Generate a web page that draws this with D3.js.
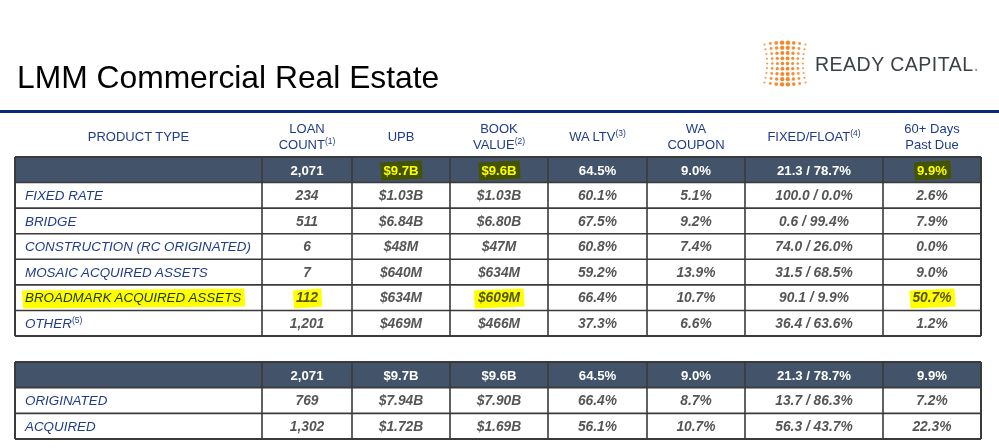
<!DOCTYPE html>
<html><head><meta charset="utf-8">
<script src="https://cdn.jsdelivr.net/npm/d3@7"></script>
<style>
html,body{margin:0;padding:0;background:#fff;}
svg{display:block;font-family:"Liberation Sans",Arial,sans-serif;}
</style></head>
<body>
<svg id="chart" width="999" height="448"></svg>
<script>
// ---- DATA ----
const headers = [["PRODUCT TYPE"],["LOAN","COUNT|(1)"],["UPB"],["BOOK","VALUE|(2)"],["WA LTV|(3)"],["WA","COUPON"],["FIXED/FLOAT|(4)"],["60+ Days","Past Due"]];
const productTypes = ["FIXED RATE","BRIDGE","CONSTRUCTION (RC ORIGINATED)","MOSAIC ACQUIRED ASSETS","BROADMARK ACQUIRED ASSETS","OTHER|(5)"];
const loanCount = ["234","511","6","7","112","1,201"];
const upb = ["$1.03B","$6.84B","$48M","$640M","$634M","$469M"];
const bookValue = ["$1.03B","$6.80B","$47M","$634M","$609M","$466M"];
const waLtv = ["60.1%","67.5%","60.8%","59.2%","66.4%","37.3%"];
const waCoupon = ["5.1%","9.2%","7.4%","13.9%","10.7%","6.6%"];
const fixedFloat = ["100.0 / 0.0%","0.6 / 99.4%","74.0 / 26.0%","31.5 / 68.5%","90.1 / 9.9%","36.4 / 63.6%"];
const pastDue = ["2.6%","7.9%","0.0%","9.0%","50.7%","1.2%"];
const totals = ["2,071","$9.7B","$9.6B","64.5%","9.0%","21.3 / 78.7%","9.9%"];

const sourceTypes = ["ORIGINATED","ACQUIRED"];
const srcLoanCount = ["769","1,302"];
const srcUpb = ["$7.94B","$1.72B"];
const srcBookValue = ["$7.90B","$1.69B"];
const srcWaLtv = ["66.4%","56.1%"];
const srcWaCoupon = ["8.7%","10.7%"];
const srcFixedFloat = ["13.7 / 86.3%","56.3 / 43.7%"];
const srcPastDue = ["7.2%","22.3%"];

// highlighted cells: [table, row, col]  (row 0 = totals row)
const highlights = [[0,0,2],[0,0,3],[0,0,7],[0,5,0],[0,5,1],[0,5,3],[0,5,7]];

// ---- LAYOUT ----
const W = 999, H = 448;
const colEdges = [15, 262, 352, 450, 548, 647, 745, 883, 981];
const svg = d3.select("#chart");
const navy = "#1f3c8c", gray = "#555555", slate = "#435369", lineC = "#3a3a3a";

// title
svg.append("text").attr("x", 17).attr("y", 88).attr("font-size", 31.8).attr("fill", "#000")
  .text("LMM Commercial Real Estate");
// rule
svg.append("rect").attr("x", 0).attr("y", 110).attr("width", W).attr("height", 3).attr("fill", "#0b2a78");

// logo (decorative dot mark)
const logo = svg.append("g");
const nCols = 8, nRows = 9;
for (let r = 0; r < nRows; r++) {
  const t = r / (nRows - 1);
  const pinch = 1 - 0.13 * Math.sin(Math.PI * t);
  for (let c = 0; c < nCols; c++) {
    const u = (c - (nCols - 1) / 2) / ((nCols - 1) / 2);
    const x = 785 + u * 20.5 * pinch;
    const y = 63.5 + (t - 0.5) * 38 * (1 + 0.1 * (1 - u * u));
    const edge = Math.abs(t - 0.5) * 2;
    const rr = 1.1 + 0.8 * (1 - Math.abs(u)) + 0.5 * edge * (1 - Math.abs(u));
    logo.append("circle").attr("cx", x).attr("cy", y).attr("r", rr).attr("fill", "#f5821f")
      .attr("opacity", 0.8 + 0.2 * (1 - Math.abs(u)));
  }
}
const lt = svg.append("text").attr("x", 815).attr("y", 71).attr("font-size", 19.5).attr("fill", "#3b4147").attr("letter-spacing", 0.5);
lt.append("tspan").text("READY CAPITAL");
lt.append("tspan").attr("fill", "#999").text(".");

// header row
const colCenter = i => (colEdges[i] + colEdges[i + 1]) / 2;
headers.forEach((lines, i) => {
  const n = lines.length;
  lines.forEach((ln, j) => {
    const y = n === 1 ? 141 : 133 + j * 16;
    const [main, sup] = ln.split("|");
    const t = svg.append("text").attr("x", colCenter(i)).attr("y", y).attr("text-anchor", "middle")
      .attr("font-size", 13).attr("fill", navy);
    t.append("tspan").text(main);
    if (sup) t.append("tspan").attr("font-size", 8.5).attr("dy", -5).text(sup);
  });
});

function drawTable(top, bottom, labels, cols, tIdx) {
  const nRowsT = labels.length + 1;
  const y = d3.scaleBand().domain(d3.range(nRowsT)).range([top, bottom]);
  const g = svg.append("g");
  const txt = svg.append("g");
  g.append("rect").attr("x", colEdges[0]).attr("y", y(0)).attr("width", colEdges[8] - colEdges[0])
    .attr("height", y.bandwidth()).attr("fill", slate);
  d3.range(nRowsT + 1).forEach(r => {
    const yy = r < nRowsT ? y(r) : bottom;
    g.append("line").attr("x1", colEdges[0]).attr("x2", colEdges[8]).attr("y1", yy).attr("y2", yy)
      .attr("stroke", lineC).attr("stroke-width", r === 0 || r === nRowsT ? 2 : 1.6);
  });
  colEdges.forEach((x, i) => {
    g.append("line").attr("x1", x).attr("x2", x).attr("y1", top).attr("y2", bottom)
      .attr("stroke", lineC).attr("stroke-width", i === 0 || i === 8 ? 2 : 1.6);
  });
  const cells = [];
  totals.forEach((v, i) => {
    const t = txt.append("text").attr("x", colCenter(i + 1)).attr("y", y(0) + y.bandwidth() / 2 + 4.8)
      .attr("text-anchor", "middle").attr("font-size", 13.2).attr("font-weight", "bold").attr("fill", "#fff").text(v);
    cells.push({r: 0, c: i + 1, node: t});
  });
  labels.forEach((lab, r) => {
    const yy = y(r + 1) + y.bandwidth() / 2 + 4.8;
    const [main, sup] = lab.split("|");
    const t = txt.append("text").attr("x", 25).attr("y", yy).attr("font-size", 13.4).attr("font-style", "italic").attr("fill", navy);
    t.append("tspan").text(main);
    if (sup) t.append("tspan").attr("font-size", 8.5).attr("dy", -5).attr("font-style", "normal").text(sup);
    cells.push({r: r + 1, c: 0, node: t});
    cols.forEach((arr, i) => {
      const tv = txt.append("text").attr("x", colCenter(i + 1)).attr("y", yy).attr("text-anchor", "middle")
        .attr("font-size", 13.8).attr("font-style", "italic").attr("font-weight", "bold").attr("fill", gray).text(arr[r]);
      cells.push({r: r + 1, c: i + 1, node: tv});
    });
  });
  highlights.filter(h => h[0] === tIdx).forEach(h => {
    const cell = cells.find(c => c.r === h[1] && c.c === h[2]);
    if (!cell) return;
    const b = cell.node.node().getBBox();
    const px = 3, top2 = b.y - 1, bot = b.y + b.height + 2;
    const x0 = b.x - px, x1 = b.x + b.width + px;
    txt.append("path")
      .attr("d", `M${x0},${top2 + 1} L${x1},${top2 - 1} L${x1 + 1},${bot - 1} L${x0 + 1},${bot + 1} Z`)
      .attr("fill", "#ffff00").style("mix-blend-mode", "multiply");
  });
}

drawTable(157, 336, productTypes, [loanCount, upb, bookValue, waLtv, waCoupon, fixedFloat, pastDue], 0);
drawTable(362, 439, sourceTypes, [srcLoanCount, srcUpb, srcBookValue, srcWaLtv, srcWaCoupon, srcFixedFloat, srcPastDue], 1);
</script>
</body></html>
